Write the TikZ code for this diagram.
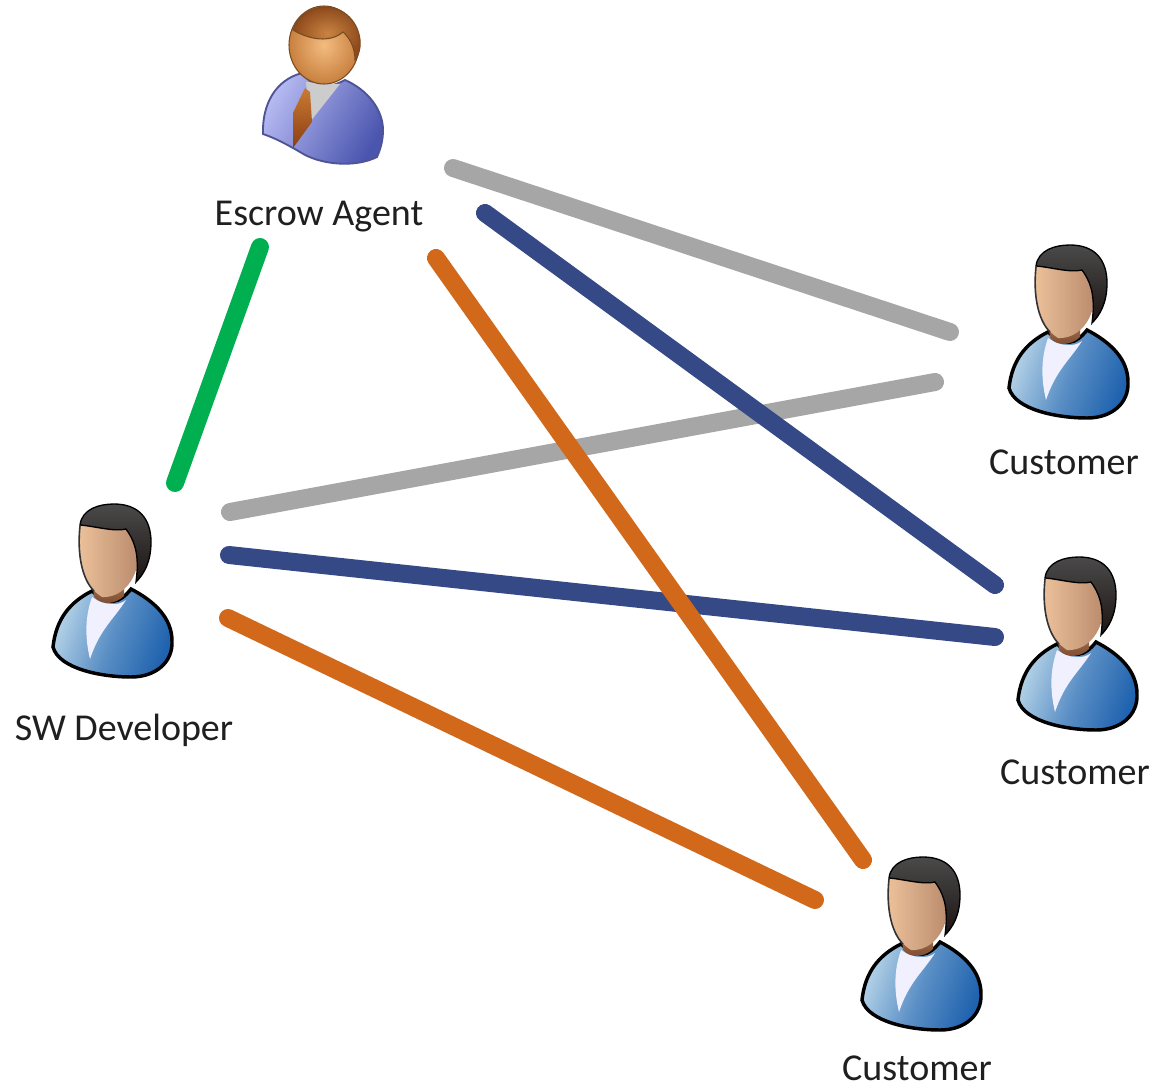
\documentclass[tikz,border=0pt]{standalone}
\usepackage{fontspec}
\setmainfont{Carlito}
\definecolor{lnGray}{HTML}{A6A6A6}
\definecolor{lnBlue}{HTML}{354987}
\definecolor{lnOrange}{HTML}{D2691A}
\definecolor{lnGreen}{HTML}{00B050}
\definecolor{bodyL}{HTML}{B5D3E8}
\definecolor{bodyR}{HTML}{1F62AE}
\definecolor{faceL}{HTML}{EDC39C}
\definecolor{faceR}{HTML}{B98A6C}
\definecolor{neckT}{HTML}{A87452}
\definecolor{neckB}{HTML}{7A4A30}
\definecolor{hairT}{HTML}{4A4A4A}
\definecolor{hairB}{HTML}{1C1412}
\definecolor{suitL}{HTML}{B6BAF2}
\definecolor{suitR}{HTML}{4A55AE}
\definecolor{suitLine}{HTML}{4E5494}
\definecolor{skinC}{HTML}{F3BC80}
\definecolor{skinO}{HTML}{C8803E}
\definecolor{hairC}{HTML}{C98442}
\definecolor{hairO}{HTML}{8E4A1C}
\definecolor{headLine}{HTML}{7A4A20}
\definecolor{tieT}{HTML}{CB7A32}
\definecolor{tieB}{HTML}{8B3E12}
\tikzset{
  link/.style={line width=13.5pt,line cap=round},
  caption/.style={font=\fontsize{28.5}{30}\selectfont,text=black!88,inner sep=0pt,anchor=center},
  customer/.pic={
    % body
    \path[draw=black,line width=2.6pt,left color=bodyL,right color=bodyR,middle color=bodyR!60!bodyL,shading angle=70]
      (19,153) .. controls (22,125) and (36,108) .. (58,97)
      .. controls (75,112) and (85,110) .. (97,95)
      .. controls (122,108) and (138,125) .. (138,147)
      .. controls (139,168) and (122,183) .. (97,183)
      .. controls (68,183) and (25,175) .. (19,153) -- cycle;
    % shirt
    \path[fill=white!94!blue] (58,103) .. controls (70,112) and (85,112) .. (92,106)
      .. controls (80,125) and (66,135) .. (56,165) .. controls (50,140) and (52,120) .. (58,103) -- cycle;
    % neck and face
    \path[top color=neckT,bottom color=neckB] (58,85) -- (60,103)
      .. controls (68,112) and (82,110) .. (90,102) -- (90,85) -- cycle;
    \path[left color=faceL,right color=faceR]
      (46,28) .. controls (42,65) and (48,90) .. (68,103)
      .. controls (85,104) and (103,90) .. (105,60)
      .. controls (106,45) and (95,30) .. (85,24) -- cycle;
    % hair
    \path[draw=black,line width=1pt,top color=hairT,bottom color=hairB]
      (46,31) .. controls (48,15) and (65,10) .. (80,10)
      .. controls (105,10) and (117,25) .. (117,48)
      .. controls (117,68) and (110,80) .. (102,88)
      .. controls (105,65) and (103,50) .. (92,35)
      .. controls (80,38) and (60,32) .. (46,31) -- cycle;
    \path[draw=black!80,line width=1.2pt] (46,32) .. controls (43,60) and (48,85) .. (60,97);
  },
  agent/.pic={
    % body
    \path[draw=suitLine,line width=1.4pt,left color=suitL,right color=suitR,shading angle=60]
      (33,134) .. controls (32,105) and (45,80) .. (72,73)
      .. controls (85,90) and (100,88) .. (115,80)
      .. controls (138,90) and (153,110) .. (153,130)
      .. controls (153,142) and (150,150) .. (147,157)
      .. controls (125,168) and (90,165) .. (70,152)
      .. controls (58,145) and (45,138) .. (33,134) -- cycle;
    % shirt
    \path[fill=black!20] (76,82) -- (110,84) -- (80,122) -- cycle;
    % tie
    \path[top color=tieT,bottom color=tieB] (75,88) -- (63,113) -- (63,148) -- (82,122) -- (80,92) -- cycle;
    % head
    \path[draw=headLine,line width=.8pt,inner color=skinC,outer color=skinO]
      (94,45) ellipse [x radius=35,y radius=39];
    % hair
    \path[draw=headLine,line width=.8pt,inner color=hairC,outer color=hairO]
      (63,30) .. controls (70,12) and (85,7) .. (95,7)
      .. controls (118,7) and (132,28) .. (130,47)
      .. controls (129,54) and (127,58) .. (125,60)
      .. controls (125,48) and (120,38) .. (113,32)
      .. controls (100,43) and (80,40) .. (63,30) -- cycle;
  }
}
\begin{document}
\begin{tikzpicture}[x=0.75pt,y=-0.75pt]
\useasboundingbox (0,0) rectangle (1157,1090);
\fill[white] (0,0) rectangle (1157,1090);

% free ends of the links
\coordinate (eG) at (260,247);   \coordinate (dG) at (175,483);
\coordinate (eA) at (453,168);   \coordinate (c1A) at (950,332);
\coordinate (dA) at (230,512);   \coordinate (c1B) at (935,382);
\coordinate (eB) at (485,213);   \coordinate (c2A) at (995,585);
\coordinate (dB) at (229,555);   \coordinate (c2B) at (995,637);
\coordinate (eC) at (436,258);   \coordinate (c3A) at (863,860);
\coordinate (dC) at (228,618);   \coordinate (c3B) at (815,900);

% icons
\pic at (230,0) {agent};
\pic at (990,235) {customer};
\pic at (999,547) {customer};
\pic at (843,847) {customer};
\pic at (34,494) {customer};

% links
\draw[link,lnGreen] (eG) -- (dG);
\draw[link,lnGray] (eA) -- (c1A);
\draw[link,lnGray] (dA) -- (c1B);
\draw[link,lnBlue] (eB) -- (c2A);
\draw[link,lnBlue] (dB) -- (c2B);
\draw[link,lnOrange] (dC) -- (c3B);
\draw[link,lnOrange] (eC) -- (c3A);

% captions
\node[caption] (agentLabel) at (319,217) {Escrow Agent};
\node[caption] (devLabel) at (124,730) {SW Developer};
\node[caption] (c1Label) at (1064,462) {Customer};
\node[caption] (c2Label) at (1075,772) {Customer};
\node[caption] (c3Label) at (917,1068) {Customer};
\end{tikzpicture}
\end{document}
